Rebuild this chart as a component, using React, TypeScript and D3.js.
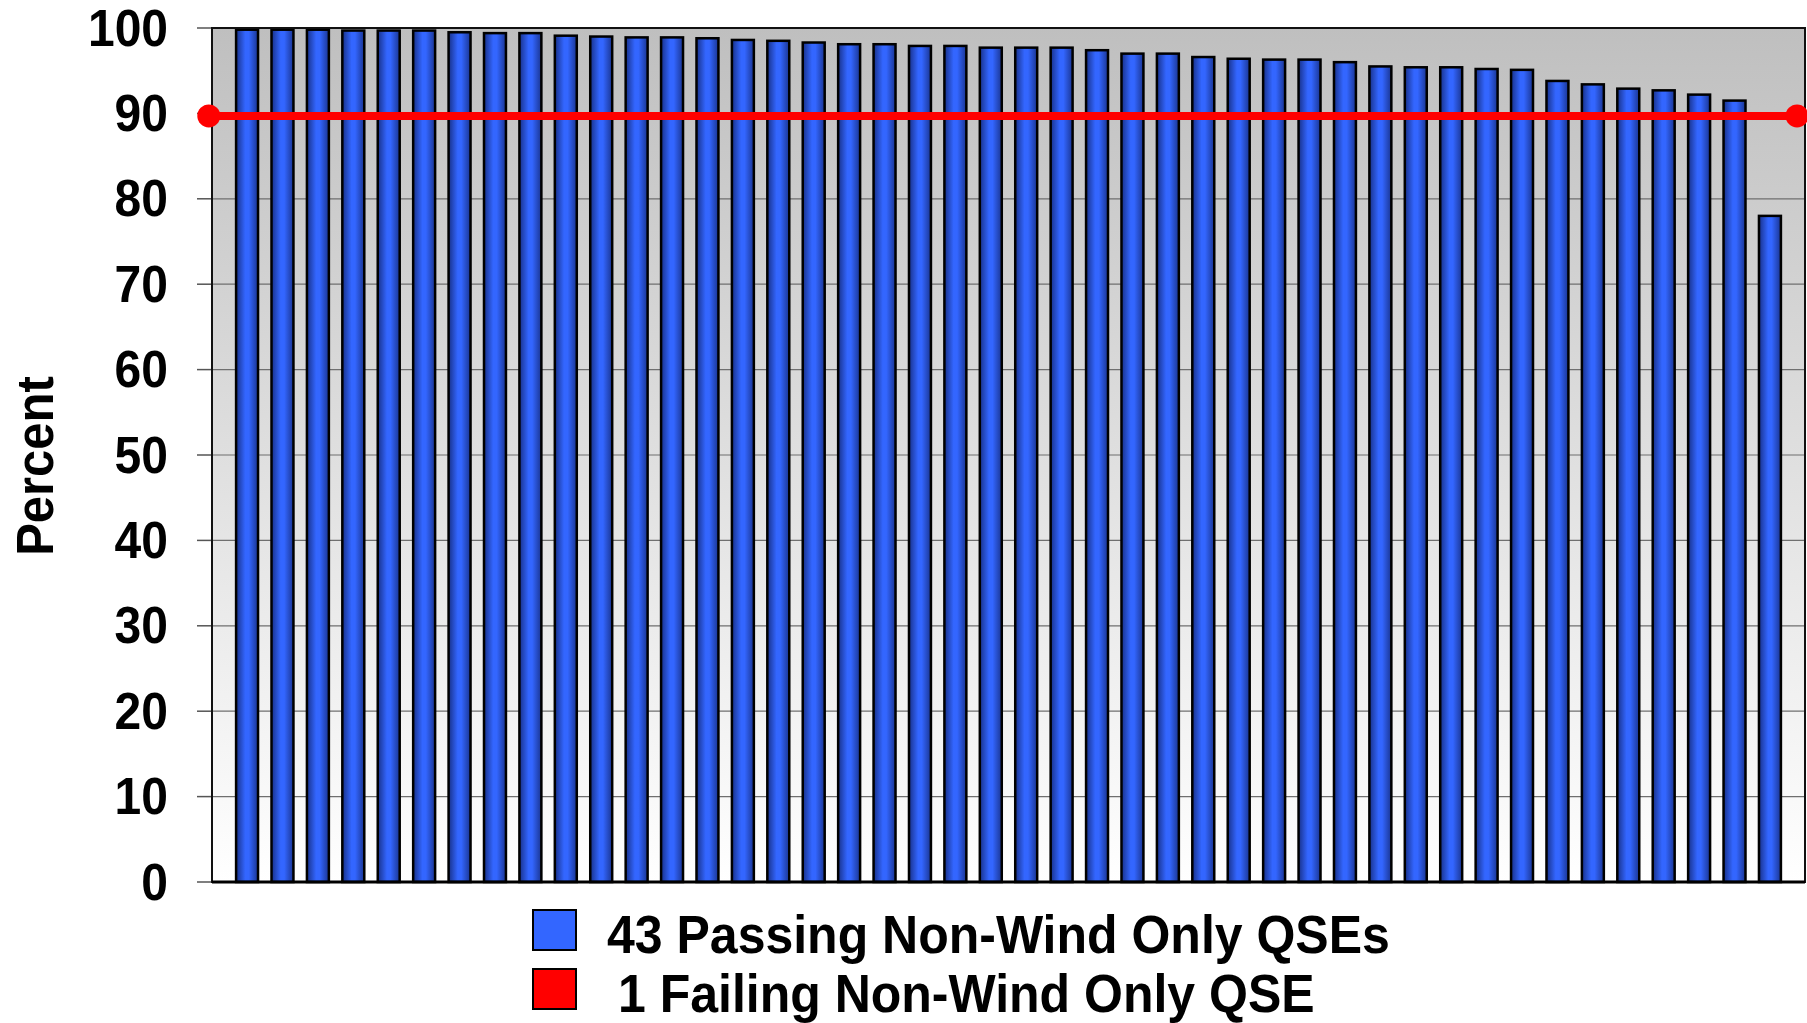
import React from 'react';
import * as d3 from 'd3';

// percent of intervals meeting the standard, one bar per QSE, sorted high to low
const qsePercent = [
  99.8, 99.8, 99.8, 99.7, 99.7, 99.7, 99.5, 99.4, 99.4, 99.1,
  99.0, 98.9, 98.9, 98.8, 98.6, 98.5, 98.3, 98.1, 98.1, 97.9,
  97.9, 97.7, 97.7, 97.7, 97.4, 97.0, 97.0, 96.6, 96.4, 96.3,
  96.3, 96.0, 95.5, 95.4, 95.4, 95.2, 95.1, 93.8, 93.4, 92.9,
  92.7, 92.2, 91.5, 78.0,
];
const yTicks = [0, 10, 20, 30, 40, 50, 60, 70, 80, 90, 100];
const thresholdLine = [
  { x: -0.2, y: 89.7 },
  { x: 99.5, y: 89.7 },
];
const legendItems = [
  { label: '43 Passing Non-Wind Only QSEs', color: '#3366ff', indent: 0 },
  { label: '1 Failing Non-Wind Only QSE', color: '#ff0000', indent: 11 },
];

const W = 1807;
const H = 1023;
const plot = { left: 212, right: 1805, top: 28, bottom: 882 };
const font = '"Liberation Sans", Arial, Helvetica, sans-serif';
const stretch = 1.07; // the original type is a bit taller than plain Arial

export default function App() {
  const x = d3
    .scaleBand<number>()
    .domain(qsePercent.map((_, i) => i))
    .range([plot.left, plot.right])
    .paddingInner(0.38)
    .paddingOuter(0.68);
  const y = d3.scaleLinear().domain([0, 100]).range([plot.bottom, plot.top]);
  const xLine = d3.scaleLinear().domain([0, 100]).range([plot.left, plot.right]);
  const line = d3
    .line<{ x: number; y: number }>()
    .x((d) => xLine(d.x))
    .y((d) => y(d.y));

  return (
    <svg
      width={W}
      height={H}
      style={{ position: 'absolute', left: 0, top: 0, background: '#fff' }}
      fontFamily={font}
      fontWeight="bold"
    >
      <defs>
        <linearGradient id="plotBg" x1="0" y1="0" x2="0" y2="1">
          <stop offset="0" stopColor="#bfbfbf" />
          <stop offset="1" stopColor="#ffffff" />
        </linearGradient>
        <linearGradient id="barFill" x1="0" y1="0" x2="1" y2="0">
          <stop offset="0" stopColor="#18318a" />
          <stop offset="0.42" stopColor="#3366ff" />
          <stop offset="0.58" stopColor="#3366ff" />
          <stop offset="1" stopColor="#1a3592" />
        </linearGradient>
      </defs>

      <rect
        x={plot.left}
        y={plot.top}
        width={plot.right - plot.left}
        height={plot.bottom - plot.top}
        fill="url(#plotBg)"
      />

      {/* gridlines and ticks */}
      {yTicks.map((t) => (
        <g key={t}>
          <line x1={plot.left} x2={plot.right} y1={y(t)} y2={y(t)} stroke="#6f6f6f" strokeWidth={1.2} />
          <line x1={plot.left - 15} x2={plot.left} y1={y(t)} y2={y(t)} stroke="#555" strokeWidth={1.5} />
          <text
            transform={`translate(168, ${y(t) + 17.5}) scale(1, ${stretch})`}
            textAnchor="end"
            fontSize={48}
            fill="#000"
          >
            {t}
          </text>
        </g>
      ))}

      {/* bars */}
      {qsePercent.map((v, i) => (
        <rect
          key={i}
          x={x(i)}
          y={y(v)}
          width={x.bandwidth()}
          height={y(0) - y(v)}
          fill="url(#barFill)"
          stroke="#000"
          strokeWidth={2.5}
        />
      ))}

      {/* plot frame */}
      <rect
        x={plot.left}
        y={plot.top}
        width={plot.right - plot.left}
        height={plot.bottom - plot.top}
        fill="none"
        stroke="#111"
        strokeWidth={2}
      />
      <line x1={plot.left} x2={plot.right} y1={plot.bottom} y2={plot.bottom} stroke="#000" strokeWidth={3} />

      {/* threshold line */}
      <path d={line(thresholdLine) ?? ''} stroke="#ff0000" strokeWidth={8} fill="none" />
      {thresholdLine.map((d, i) => (
        <circle key={i} cx={xLine(d.x)} cy={y(d.y)} r={11.5} fill="#ff0000" />
      ))}

      {/* axis title */}
      <text
        transform={`translate(53, 466) rotate(-90) scale(1, ${stretch})`}
        textAnchor="middle"
        fontSize={49}
        fill="#000"
      >
        Percent
      </text>

      {/* legend */}
      {legendItems.map((d, i) => (
        <g key={d.label} transform={`translate(533, ${910 + i * 59})`}>
          <rect width={43} height={40} fill={d.color} stroke="#000" strokeWidth={2} />
          <text
            transform={`translate(${74 + d.indent}, 43) scale(1, ${stretch})`}
            fontSize={50}
            fill="#000"
          >
            {d.label}
          </text>
        </g>
      ))}
    </svg>
  );
}
